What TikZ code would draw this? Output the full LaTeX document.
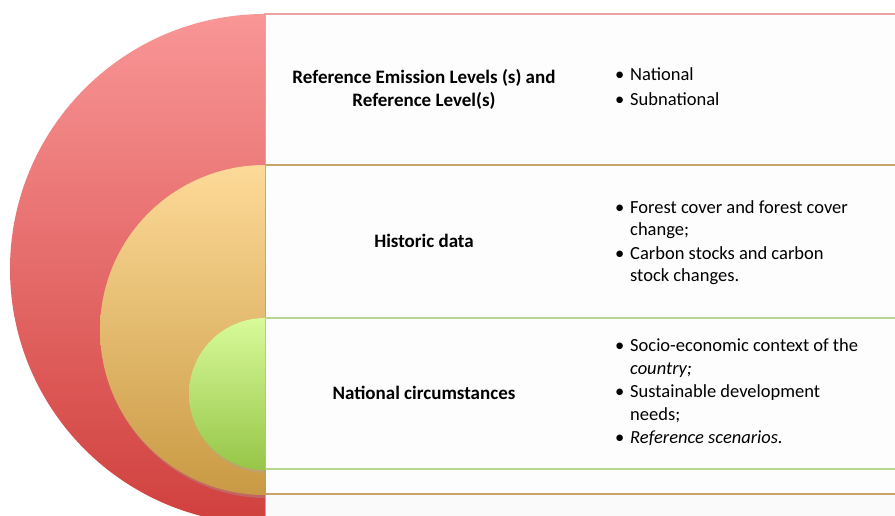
\documentclass[tikz,border=0pt]{standalone}
\usepackage{fontspec}
\setmainfont{Carlito}
\definecolor{redtop}{HTML}{F99696}
\definecolor{redbot}{HTML}{D0403D}
\definecolor{orgtop}{HTML}{FDDA98}
\definecolor{orgbot}{HTML}{C99A44}
\definecolor{grntop}{HTML}{D8FA9A}
\definecolor{grnbot}{HTML}{96C648}
\definecolor{redline}{HTML}{E9A3A3}
\definecolor{orgline}{HTML}{C9A468}
\definecolor{grnline}{HTML}{B9D792}
\definecolor{panel}{HTML}{FDFDFD}
\newcommand{\bitem}[1]{\makebox[15bp][l]{\textbullet}\begin{tabular}[t]{@{}l@{}}#1\end{tabular}}
\tikzset{
  head/.style={font=\fontsize{19bp}{23bp}\selectfont\bfseries, align=center, inner sep=0pt},
  blist/.style={font=\fontsize{18.5bp}{22.5bp}\selectfont, align=left, inner sep=0pt, anchor=west},
}
\begin{document}
\begin{tikzpicture}[x=1bp,y=-1bp]
\useasboundingbox (0,0) rectangle (895,516);
\fill[white] (0,0) rectangle (895,516);
% panels
\begin{scope}
\clip (0,0) rectangle (895,516);
\filldraw[fill=panel, draw=redline, line width=1.5bp] (265,14) rectangle (905,530);
\filldraw[fill=panel, draw=orgline, line width=1.2bp] (265,165) rectangle (905,494);
\filldraw[fill=panel, draw=grnline, line width=1.2bp] (265,318) rectangle (905,469);
\fill[black!2] (266,495) rectangle (895,516);
\end{scope}
% semicircles
\begin{scope}
\clip (0,0) rectangle (265,516);
\shade[top color=redtop, bottom color=redbot] (265,269) circle (255);
\fill[black!35, opacity=0.35] (267,332) circle (166);
\shade[top color=orgtop, bottom color=orgbot] (265,330) circle (165);
\fill[black!35, opacity=0.35] (267,396) circle (77);
\shade[top color=grntop, bottom color=grnbot] (265,394) circle (76);
\end{scope}
% texts
\node[head] (h1) at (424,89) {Reference Emission Levels (s) and\\Reference Level(s)};
\node[head] (h2) at (424,241) {Historic data};
\node[head] (h3) at (424,393) {National circumstances};
\node[blist, font=\fontsize{18.5bp}{25bp}\selectfont] (l1) at (615,88) {\bitem{National}\\\bitem{Subnational}};
\node[blist] (l2) at (615,243) {\bitem{Forest cover and forest cover\\change;}\\\bitem{Carbon stocks and carbon\\stock changes.}};
\node[blist] (l3) at (615,393) {\bitem{Socio-economic context of the\\\textit{country;}}\\\bitem{Sustainable development\\needs;}\\\bitem{\textit{Reference scenarios.}}};
\end{tikzpicture}
\end{document}
